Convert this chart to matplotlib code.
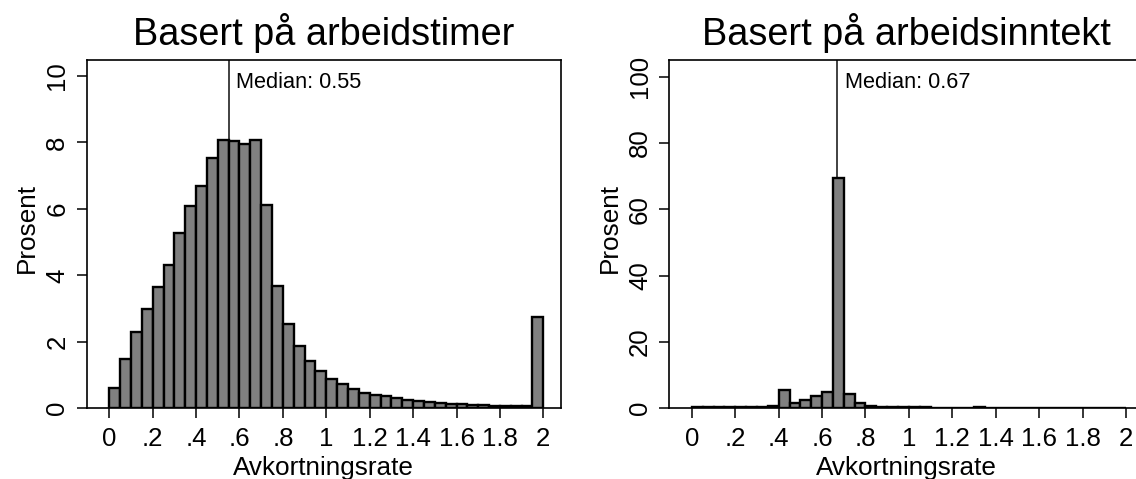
import matplotlib
matplotlib.use("Agg")
import matplotlib.pyplot as plt
import numpy as np

plt.rcParams['font.family'] = ['Liberation Sans', 'DejaVu Sans']

# ---- data ----
bin_width = 0.05
bin_starts = [round(i * bin_width, 2) for i in range(40)]

left_title = "Basert på arbeidstimer"
left_pct = [0.61, 1.47, 2.29, 2.99, 3.64, 4.31, 5.26, 6.08, 6.68, 7.54,
            8.07, 8.04, 7.94, 8.07, 6.13, 3.69, 2.55, 1.87, 1.41, 1.12,
            0.89, 0.73, 0.59, 0.46, 0.41, 0.36, 0.30, 0.25, 0.22, 0.18,
            0.16, 0.14, 0.12, 0.11, 0.10, 0.08, 0.08, 0.07, 0.07, 2.76]
left_median = 0.55

right_title = "Basert på arbeidsinntekt"
right_pct = [0.3, 0.3, 0.3, 0.3, 0.3, 0.3, 0.3, 0.6, 5.5, 1.7,
             2.5, 3.8, 4.9, 69.5, 4.4, 1.5, 0.8, 0.4, 0.4, 0.4,
             0.4, 0.4, 0.0, 0.0, 0.0, 0.0, 0.5, 0.0, 0.0, 0.0,
             0.0, 0.0, 0.0, 0.0, 0.0, 0.0, 0.0, 0.0, 0.0, 0.0]
right_median = 0.67

x_ticks = [0, 0.2, 0.4, 0.6, 0.8, 1.0, 1.2, 1.4, 1.6, 1.8, 2.0]
x_ticklabels = ["0", ".2", ".4", ".6", ".8", "1", "1.2", "1.4", "1.6", "1.8", "2"]
left_yticks = [0, 2, 4, 6, 8, 10]
right_yticks = [0, 20, 40, 60, 80, 100]
xlabel = "Avkortningsrate"
ylabel = "Prosent"

# ---- figure ----
W, H = 1136, 479
fig = plt.figure(figsize=(W / 100, H / 100), dpi=100)

def px_axes(x0, y0, x1, y1):
    return [x0 / W, 1 - y1 / H, (x1 - x0) / W, (y1 - y0) / H]

ax_l = fig.add_axes(px_axes(86.7, 60, 560.7, 408.3))
ax_r = fig.add_axes(px_axes(669.3, 60, 1143.3, 408.3))

panels = [
    (ax_l, left_pct, left_median, left_title, left_yticks, 10.48),
    (ax_r, right_pct, right_median, right_title, right_yticks, 105.0),
]

for ax, pct, med, title, yticks, ymax in panels:
    ax.axvline(med, color='#333333', lw=1.3, zorder=1)
    ax.bar(bin_starts, pct, width=bin_width, align='edge',
           color='#808080', edgecolor='black', linewidth=1.7, zorder=2)
    ax.text(med + 0.034, 0.9188, f"Median: {med:.2f}",
            transform=ax.get_xaxis_transform(), fontsize=15.7,
            va='baseline', ha='left', zorder=3)
    ax.set_xlim(-0.104, 2.080)
    ax.set_ylim(0, ymax)
    ax.set_xticks(x_ticks)
    ax.set_xticklabels(x_ticklabels)
    ax.set_yticks(yticks)
    ax.set_yticklabels([str(t) for t in yticks])
    ax.tick_params(axis='both', direction='out', length=7.2, width=1.1,
                   labelsize=18.6, color='black')
    ax.tick_params(axis='x', pad=6)
    ax.tick_params(axis='y', pad=5.3, labelrotation=90)
    for lab in ax.get_yticklabels():
        lab.set_va('center')
    for sp in ax.spines.values():
        sp.set_linewidth(1.2)
        sp.set_color('black')
    ax.set_title(title, fontsize=27.3, pad=11)
    ax.set_xlabel(xlabel, fontsize=18.8)
    ax.xaxis.set_label_coords(0.5, -0.137)
    ax.set_ylabel(ylabel, fontsize=18.8)
    ax.yaxis.set_label_coords(-0.101, 0.517)

fig.savefig("out.png", dpi=100)
